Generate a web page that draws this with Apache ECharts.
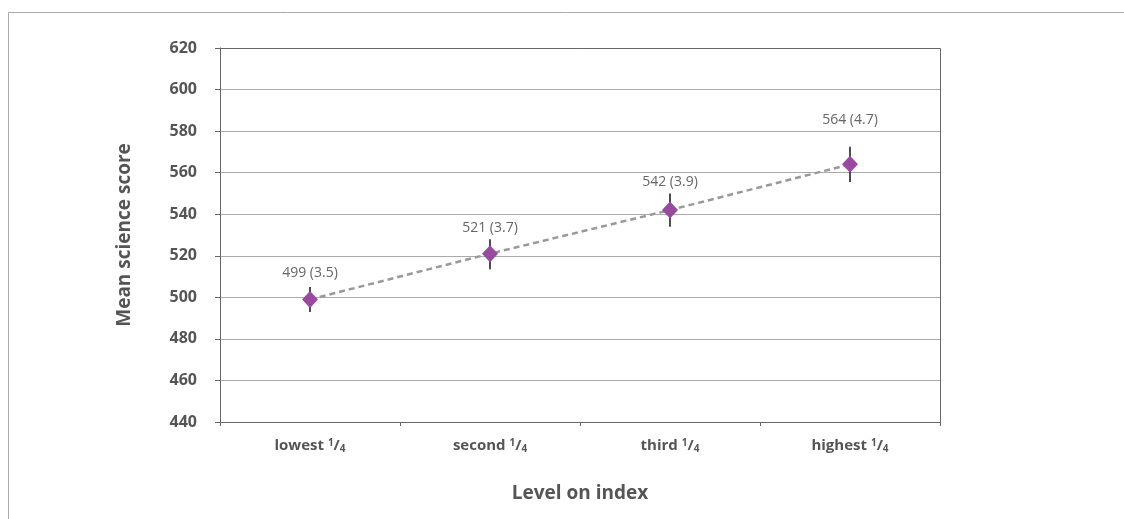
<!DOCTYPE html>
<html><head><meta charset="utf-8">
<script src="https://cdn.jsdelivr.net/npm/echarts@6/dist/echarts.min.js"></script>
<style>html,body{margin:0;padding:0;background:#fff}#c{width:1124px;height:519px}</style>
</head><body><div id="c"></div>
<script>
var categories = ['lowest', 'second', 'third', 'highest'];
var means = [499, 521, 542, 564];
var stdErrors = [3.5, 3.7, 3.9, 4.7];
var errLow = [493, 513.5, 534, 555.5];
var errHigh = [505, 528, 550, 572.5];
var yTicks = [440, 460, 480, 500, 520, 540, 560, 580, 600, 620];

var labelDist = [11, 10, 13, 29];
var chart = echarts.init(document.getElementById('c'), null, {renderer: 'canvas'});
var axisFont = "'DejaVu Sans Condensed', 'Open Sans', sans-serif";
var boldFont = "'Open Sans', sans-serif";
chart.setOption({
  animation: false,
  backgroundColor: '#fff',
  graphic: [
    {type: 'line', shape: {x1: 8.5, y1: 12.5, x2: 1124, y2: 12.5}, style: {stroke: '#aaa', lineWidth: 1}},
    {type: 'line', shape: {x1: 8.5, y1: 12.5, x2: 8.5, y2: 519}, style: {stroke: '#aaa', lineWidth: 1}},
    {type: 'line', shape: {x1: 220, y1: 48.5, x2: 940.5, y2: 48.5}, style: {stroke: '#666', lineWidth: 1}, z: 10},
    {type: 'line', shape: {x1: 940.5, y1: 48.5, x2: 940.5, y2: 422}, style: {stroke: '#666', lineWidth: 1}, z: 10}
  ],
  grid: {left: 220, right: 184, top: 48, bottom: 97},
  xAxis: {
    type: 'category',
    data: categories,
    boundaryGap: true,
    axisLine: {lineStyle: {color: '#666', width: 1}},
    axisTick: {show: true, interval: 0, length: 4, lineStyle: {color: '#666'}},
    axisLabel: {
      interval: 0,
      margin: 16,
      formatter: function (v) { return '{m|' + v + ' }{sup|1}{m|/}{sub|4}'; },
      rich: {
        m: {fontFamily: boldFont, fontWeight: 'bold', fontSize: 15, color: '#555', lineHeight: 16},
        sup: {fontFamily: boldFont, fontWeight: 'bold', fontSize: 10, color: '#555', verticalAlign: 'top', lineHeight: 16},
        sub: {fontFamily: boldFont, fontWeight: 'bold', fontSize: 10, color: '#555', verticalAlign: 'bottom', lineHeight: 13}
      }
    },
    name: 'Level on index',
    nameLocation: 'middle',
    nameGap: 62,
    nameTextStyle: {fontFamily: boldFont, fontWeight: 'bold', fontSize: 19, color: '#555'}
  },
  yAxis: {
    type: 'value',
    min: yTicks[0],
    max: yTicks[yTicks.length - 1],
    interval: yTicks[1] - yTicks[0],
    axisLine: {show: true, lineStyle: {color: '#666', width: 1}},
    axisTick: {show: true, length: 5, lineStyle: {color: '#666'}},
    axisLabel: {fontFamily: boldFont, fontWeight: 'bold', fontSize: 16, color: '#555', margin: 23, padding: [0, 0, 6, 0]},
    splitLine: {show: true, lineStyle: {color: '#aaa', width: 1}},
    name: 'Mean science score',
    nameLocation: 'middle',
    nameGap: 86,
    nameTextStyle: {fontFamily: boldFont, fontWeight: 'bold', fontSize: 19, color: '#555'}
  },
  series: [
    {
      type: 'line',
      data: means,
      symbol: 'none',
      lineStyle: {color: '#999', width: 2.5, type: [6, 4]},
      z: 2
    },
    {
      type: 'custom',
      data: categories.map(function (c, i) { return [i, errLow[i], errHigh[i]]; }),
      renderItem: function (params, api) {
        var p1 = api.coord([api.value(0), api.value(1)]);
        var p2 = api.coord([api.value(0), api.value(2)]);
        return {type: 'line', shape: {x1: p1[0], y1: p1[1], x2: p2[0], y2: p2[1]}, style: {stroke: '#111', lineWidth: 1.5}};
      },
      z: 3
    },
    {
      type: 'scatter',
      data: means.map(function (v, i) {
        return {value: [i, v], label: {distance: labelDist[i]}};
      }),
      symbol: 'diamond',
      symbolSize: [16, 17],
      itemStyle: {color: '#984B9E', opacity: 1},
      label: {
        show: true,
        position: 'top',
        fontFamily: "'Open Sans', sans-serif",
        fontSize: 14,
        color: '#666',
        formatter: function (p) { return means[p.dataIndex] + ' (' + stdErrors[p.dataIndex].toFixed(1) + ')'; }
      },
      z: 5
    }
  ]
});
</script></body></html>
